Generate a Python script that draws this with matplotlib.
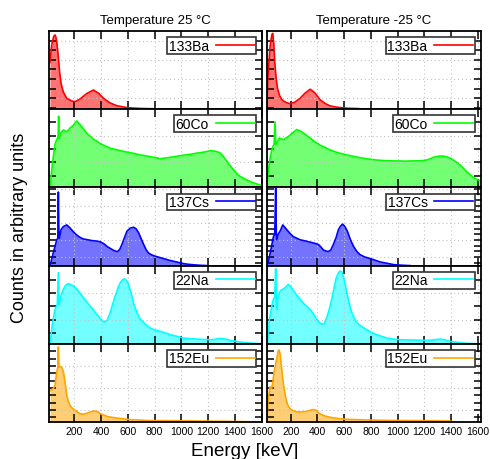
import numpy as np
import matplotlib
matplotlib.use("Agg")
import matplotlib.pyplot as plt
from matplotlib.ticker import FixedLocator, NullFormatter
from matplotlib.lines import Line2D

plt.rcParams['font.family'] = ['Liberation Sans', 'DejaVu Sans']

# spectra, counts normalised to the panel height
ba133_25_e = [17, 30, 45, 55, 62, 70, 80, 90, 100, 117, 142, 180, 205, 242, 292, 342, 380, 417, 467, 517, 592, 692, 797]
ba133_25_c = [0.60, 0.82, 0.93, 0.95, 0.92, 0.83, 0.66, 0.46, 0.33, 0.22, 0.14, 0.105, 0.096, 0.13, 0.20, 0.245, 0.205, 0.14, 0.08, 0.045, 0.02, 0.01, 0.005]
ba133_m25_e = [20, 30, 45, 58, 65, 72, 80, 90, 100, 115, 130, 150, 175, 195, 230, 270, 310, 345, 380, 420, 460, 494, 530, 570, 630, 707]
ba133_m25_c = [0.03, 0.45, 0.80, 0.95, 0.97, 0.85, 0.60, 0.40, 0.27, 0.18, 0.13, 0.10, 0.08, 0.07, 0.09, 0.14, 0.21, 0.255, 0.21, 0.12, 0.07, 0.043, 0.03, 0.02, 0.012, 0.008]

co60_25_e = [18, 35, 55, 70, 78, 82, 86, 100, 118, 143, 168, 190, 218, 243, 268, 293, 318, 343, 368, 393, 430, 468, 505, 543, 580, 618, 655, 693, 730, 768, 805, 843, 880, 918, 955, 993, 1030, 1067, 1105, 1142, 1180, 1217, 1242, 1267, 1290, 1304, 1320, 1342, 1360, 1380, 1400, 1416, 1440, 1466, 1490, 1516, 1540, 1566, 1590, 1605]
co60_25_c = [0.0, 0.30, 0.55, 0.62, 0.64, 0.91, 0.62, 0.70, 0.735, 0.71, 0.76, 0.79, 0.85, 0.80, 0.75, 0.69, 0.655, 0.615, 0.59, 0.56, 0.53, 0.50, 0.485, 0.47, 0.455, 0.444, 0.43, 0.415, 0.405, 0.393, 0.38, 0.367, 0.375, 0.385, 0.395, 0.406, 0.415, 0.423, 0.435, 0.444, 0.455, 0.47, 0.465, 0.457, 0.44, 0.415, 0.38, 0.33, 0.29, 0.244, 0.205, 0.171, 0.14, 0.115, 0.095, 0.073, 0.058, 0.043, 0.03, 0.017]
co60_m25_e = [20, 35, 50, 65, 75, 82, 88, 100, 115, 145, 182, 215, 245, 282, 315, 345, 380, 420, 457, 494, 532, 570, 607, 644, 682, 719, 757, 794, 832, 869, 907, 944, 982, 1019, 1057, 1094, 1132, 1169, 1200, 1218, 1245, 1268, 1293, 1318, 1343, 1368, 1393, 1418, 1443, 1468, 1493, 1518, 1543, 1568, 1590, 1606, 1625]
co60_m25_c = [0.0, 0.25, 0.42, 0.52, 0.55, 0.84, 0.55, 0.585, 0.63, 0.61, 0.65, 0.70, 0.74, 0.71, 0.67, 0.63, 0.585, 0.54, 0.51, 0.48, 0.455, 0.436, 0.42, 0.406, 0.393, 0.38, 0.37, 0.36, 0.352, 0.346, 0.342, 0.34, 0.338, 0.338, 0.336, 0.338, 0.339, 0.34, 0.345, 0.35, 0.365, 0.385, 0.395, 0.40, 0.40, 0.39, 0.375, 0.35, 0.32, 0.286, 0.245, 0.20, 0.165, 0.128, 0.105, 0.094, 0.085]

cs137_25_e = [18, 40, 68, 76, 80, 84, 88, 100, 118, 143, 168, 193, 218, 243, 268, 300, 330, 360, 393, 420, 443, 468, 493, 510, 523, 540, 555, 575, 593, 618, 643, 662, 680, 700, 718, 737, 755, 780, 805, 835, 867, 905, 942, 980, 1017, 1055, 1092, 1140, 1192]
cs137_25_c = [0.0, 0.15, 0.33, 0.35, 0.94, 0.38, 0.35, 0.46, 0.50, 0.52, 0.48, 0.43, 0.39, 0.36, 0.34, 0.33, 0.32, 0.315, 0.305, 0.28, 0.246, 0.22, 0.195, 0.183, 0.18, 0.21, 0.27, 0.36, 0.44, 0.48, 0.49, 0.47, 0.42, 0.34, 0.27, 0.20, 0.16, 0.135, 0.12, 0.105, 0.09, 0.07, 0.055, 0.04, 0.025, 0.016, 0.01, 0.004, 0.0]
cs137_m25_e = [25, 45, 70, 80, 87, 92, 95, 105, 120, 140, 170, 195, 220, 245, 270, 310, 345, 380, 407, 425, 444, 465, 482, 500, 519, 540, 557, 575, 589, 605, 624, 645, 669, 695, 719, 755, 794, 830, 869, 920, 969, 1030, 1094]
cs137_m25_c = [0.0, 0.15, 0.37, 0.40, 0.99, 0.40, 0.33, 0.40, 0.44, 0.52, 0.46, 0.41, 0.37, 0.35, 0.33, 0.315, 0.30, 0.285, 0.27, 0.24, 0.20, 0.185, 0.18, 0.20, 0.27, 0.36, 0.46, 0.51, 0.53, 0.50, 0.44, 0.34, 0.25, 0.18, 0.14, 0.11, 0.09, 0.07, 0.047, 0.03, 0.013, 0.005, 0.0]

na22_25_e = [18, 35, 55, 72, 80, 85, 90, 100, 118, 135, 155, 180, 200, 218, 243, 268, 293, 318, 343, 368, 390, 405, 418, 430, 445, 468, 485, 505, 525, 543, 560, 575, 590, 605, 618, 630, 645, 668, 690, 718, 742, 767, 805, 842, 880, 917, 967, 1017, 1067, 1117, 1167, 1217, 1255, 1292, 1330, 1367, 1405, 1442, 1480, 1517, 1560, 1605]
na22_25_c = [0.0, 0.25, 0.44, 0.50, 0.91, 0.50, 0.52, 0.62, 0.70, 0.75, 0.77, 0.75, 0.73, 0.70, 0.645, 0.59, 0.535, 0.48, 0.43, 0.375, 0.33, 0.30, 0.285, 0.28, 0.30, 0.40, 0.50, 0.61, 0.71, 0.78, 0.82, 0.83, 0.81, 0.76, 0.68, 0.61, 0.50, 0.40, 0.32, 0.27, 0.23, 0.20, 0.175, 0.16, 0.14, 0.116, 0.095, 0.073, 0.065, 0.06, 0.055, 0.05, 0.058, 0.069, 0.06, 0.043, 0.032, 0.022, 0.015, 0.01, 0.005, 0.0]
na22_m25_e = [25, 40, 60, 70, 80, 87, 92, 95, 105, 115, 130, 145, 165, 182, 200, 220, 245, 270, 300, 345, 370, 395, 415, 432, 450, 470, 490, 507, 525, 539, 555, 569, 582, 594, 610, 624, 640, 657, 680, 707, 740, 769, 805, 844, 880, 919, 970, 1019, 1070, 1119, 1170, 1218, 1270, 1318, 1355, 1393, 1440, 1493, 1560, 1625]
na22_m25_c = [0.0, 0.30, 0.50, 0.57, 0.60, 0.96, 0.55, 0.44, 0.60, 0.66, 0.69, 0.70, 0.73, 0.76, 0.73, 0.68, 0.62, 0.57, 0.51, 0.44, 0.38, 0.31, 0.27, 0.25, 0.26, 0.335, 0.45, 0.57, 0.72, 0.83, 0.90, 0.93, 0.92, 0.86, 0.74, 0.62, 0.50, 0.40, 0.31, 0.25, 0.21, 0.18, 0.145, 0.117, 0.095, 0.074, 0.06, 0.052, 0.05, 0.048, 0.046, 0.043, 0.05, 0.06, 0.05, 0.03, 0.02, 0.009, 0.003, 0.0]

eu152_25_e = [18, 43, 55, 68, 76, 80, 84, 88, 95, 105, 118, 130, 143, 155, 168, 185, 205, 225, 243, 262, 280, 300, 318, 338, 355, 375, 393, 418, 443, 480, 518, 568, 618, 680, 743, 805, 867, 990, 1117, 1240, 1367, 1480, 1592]
eu152_25_c = [0.40, 0.43, 0.47, 0.64, 0.70, 0.96, 0.72, 0.70, 0.71, 0.70, 0.64, 0.51, 0.34, 0.26, 0.21, 0.175, 0.15, 0.125, 0.106, 0.10, 0.106, 0.115, 0.128, 0.138, 0.14, 0.13, 0.106, 0.09, 0.072, 0.06, 0.05, 0.04, 0.03, 0.025, 0.02, 0.018, 0.017, 0.015, 0.013, 0.01, 0.008, 0.004, 0.0]
eu152_m25_e = [20, 32, 45, 57, 65, 75, 85, 95, 107, 113, 120, 132, 140, 150, 160, 170, 182, 195, 213, 232, 250, 270, 295, 320, 345, 370, 390, 407, 430, 457, 495, 532, 575, 619, 690, 769, 870, 969, 1090, 1218, 1310, 1393, 1418]
eu152_m25_c = [0.0, 0.30, 0.45, 0.43, 0.50, 0.64, 0.72, 0.81, 0.915, 0.92, 0.87, 0.68, 0.55, 0.43, 0.33, 0.255, 0.2, 0.17, 0.15, 0.136, 0.13, 0.128, 0.13, 0.136, 0.15, 0.16, 0.15, 0.12, 0.095, 0.077, 0.06, 0.05, 0.04, 0.034, 0.03, 0.026, 0.022, 0.02, 0.018, 0.017, 0.015, 0.013, 0.0]

sources = ['133Ba', '60Co', '137Cs', '22Na', '152Eu']
colors = ['#ff0000', '#00ff00', '#0000ff', '#00ffff', '#ffa500']
spectra_25 = [(ba133_25_e, ba133_25_c), (co60_25_e, co60_25_c), (cs137_25_e, cs137_25_c),
              (na22_25_e, na22_25_c), (eu152_25_e, eu152_25_c)]
spectra_m25 = [(ba133_m25_e, ba133_m25_c), (co60_m25_e, co60_m25_c), (cs137_m25_e, cs137_m25_c),
               (na22_m25_e, na22_m25_c), (eu152_m25_e, eu152_m25_c)]
titles = ['Temperature 25 °C', 'Temperature -25 °C']
energy_ticks = [200, 400, 600, 800, 1000, 1200, 1400, 1600]

# y tick step, first tick, grid every n ticks
ytick_spec = [(0.122, 0.02, 2), (0.17, 0.15, 2), (0.073, 0.035, 3), (0.17, 0.14, 2), (0.094, 0.06, 3)]

fig = plt.figure(figsize=(4.9, 4.6), dpi=100)
W, H = 490, 460
top_px, bot_px = 32, 423
row_h = (bot_px - top_px) / 5
col_x = [(49, 262.3, (10, 1605)), (267, 481, (22, 1625))]

for c, (x0, x1, xl) in enumerate(col_x):
    data = spectra_25 if c == 0 else spectra_m25
    for r in range(5):
        y_top = top_px + r * row_h
        ax = fig.add_axes([x0 / W, 1 - (y_top + row_h) / H, (x1 - x0) / W, row_h / H])
        e, cnt = data[r]
        ax.fill_between(e, cnt, 0, color=colors[r], alpha=0.55, linewidth=0)
        ax.plot(e, cnt, color=colors[r], lw=1.2)
        ax.set_xlim(*xl)
        ax.set_ylim(0, 1)

        step, off, n = ytick_spec[r]
        ticks = np.arange(off, 0.99, step)
        major = ticks[1::n]
        minor = [t for i, t in enumerate(ticks) if (i - 1) % n != 0]
        ax.yaxis.set_major_locator(FixedLocator(major))
        ax.yaxis.set_minor_locator(FixedLocator(minor))
        ax.xaxis.set_major_locator(FixedLocator(energy_ticks))
        ax.yaxis.set_major_formatter(NullFormatter())
        ax.grid(True, which='major', color='#c4c4c4', ls=(0, (1, 2.5)), lw=0.8)
        ax.tick_params(which='both', direction='in', top=True, right=True,
                       length=5, width=1.1, labelsize=7.5, pad=3)
        ax.tick_params(axis='x', length=6)
        if r < 4:
            ax.set_xticklabels([])
        for s in ax.spines.values():
            s.set_linewidth(1.3)
        if r == 0:
            ax.set_title(titles[c], fontsize=9.5, pad=6)

        h = Line2D([], [], color=colors[r], lw=1.2)
        leg = ax.legend([h], [sources[r]], loc='upper right', fontsize=10, markerfirst=False,
                        handlelength=2.8, handletextpad=0.5, borderpad=0.1,
                        borderaxespad=0.45, fancybox=False, framealpha=1)
        leg.get_frame().set_edgecolor('#333333')
        leg.get_frame().set_linewidth(1.2)

fig.text(0.5, 1 - 452 / H, 'Energy [keV]', ha='center', va='center', fontsize=13.5)
fig.text(20 / W, 1 - 228 / H, 'Counts in arbitrary units', ha='center', va='center',
         rotation=90, fontsize=13)

fig.savefig('out.png', dpi=100)
